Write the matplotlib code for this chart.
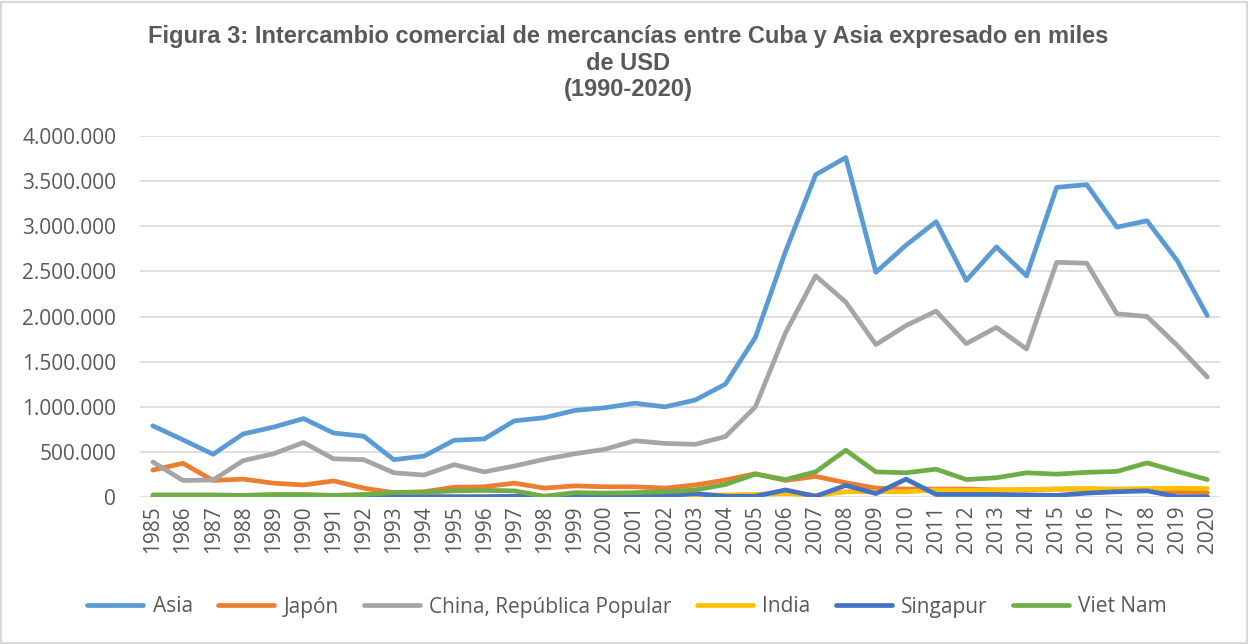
import numpy as np
import matplotlib
matplotlib.use('Agg')
from matplotlib import pyplot as plt
from matplotlib.patches import Rectangle
from matplotlib.ticker import FuncFormatter

plt.rcParams['font.family'] = ['Open Sans', 'DejaVu Sans']

years = list(range(1985, 2021))

asia = [790, 635, 475, 700, 775, 870, 710, 675, 415, 455,
        630, 645, 845, 880, 960, 990, 1040, 1000, 1075, 1250,
        1770, 2720, 3570, 3760, 2490, 2790, 3050, 2400, 2770, 2450,
        3430, 3460, 2990, 3060, 2620, 2010]
japon = [300, 375, 185, 200, 155, 135, 180, 100, 50, 60,
         110, 115, 155, 100, 125, 115, 115, 100, 135, 190,
         260, 185, 230, 160, 100, 90, 90, 90, 80, 80,
         90, 90, 85, 80, 60, 50]
china = [390, 185, 190, 405, 480, 605, 425, 415, 270, 245,
         360, 280, 345, 420, 480, 530, 625, 595, 585, 670,
         1000, 1820, 2450, 2160, 1690, 1900, 2060, 1700, 1880, 1640,
         2600, 2590, 2030, 2000, 1680, 1330]
india = [5, 5, 5, 5, 5, 5, 5, 5, 5, 5,
         5, 5, 10, 10, 10, 15, 15, 15, 20, 25,
         30, 40, 20, 60, 60, 60, 80, 75, 80, 85,
         90, 95, 90, 95, 100, 95]
singapur = [0, 0, 0, 0, 0, 0, 0, 0, 5, 5,
            5, 5, 10, 5, 5, 5, 10, 15, 40, 10,
            10, 80, 10, 130, 40, 200, 30, 30, 30, 25,
            20, 45, 60, 70, 5, 5]
vietnam = [25, 25, 25, 20, 30, 30, 20, 30, 50, 55,
           70, 75, 70, 10, 50, 45, 50, 60, 80, 140,
           255, 195, 280, 520, 280, 270, 310, 195, 215, 270,
           255, 275, 285, 380, 285, 195]

series = [
    ('Asia', asia, '#5B9BD5'),
    ('Japón', japon, '#ED7D31'),
    ('China, República Popular', china, '#A5A5A5'),
    ('India', india, '#FFC000'),
    ('Singapur', singapur, '#4472C4'),
    ('Viet Nam', vietnam, '#70AD47'),
]

fig = plt.figure(figsize=(12.49, 6.44), dpi=100)
ax = fig.add_axes([0.112, 0.228, 0.865, 0.561])

for name, vals, col in series:
    ax.plot(years, np.array(vals) * 1000, color=col, lw=3.4, label=name,
            solid_capstyle='round', solid_joinstyle='round')

ax.set_ylim(0, 4000000)
ax.set_xlim(1984.57, 2020.43)
ax.set_yticks(np.arange(0, 4000001, 500000))
ax.yaxis.set_major_formatter(FuncFormatter(lambda v, p: f'{int(v):,}'.replace(',', '.')))
ax.set_xticks(years)
ax.set_xticklabels([str(y) for y in years], rotation=90)
ax.tick_params(axis='both', length=0, labelsize=15, colors='#595959')
ax.tick_params(axis='y', pad=17)
ax.tick_params(axis='x', pad=6)
ax.grid(axis='y', color='#D9D9D9', lw=1.2)
ax.set_axisbelow(True)
for s in ax.spines.values():
    s.set_visible(False)

fig.text(0.503, 1 - 63 / 644, 'Figura 3: Intercambio comercial de mercancías entre Cuba y Asia expresado en miles\nde USD\n(1990-2020)',
         ha='center', va='center', fontsize=17, fontweight='bold', color='#595959',
         family='Liberation Sans', linespacing=1.22)

fig.legend(loc='center', bbox_to_anchor=(0.502, 1 - 607 / 644), ncol=6, frameon=False,
           fontsize=15, labelcolor='#595959', handlelength=2.7, handletextpad=0.45,
           columnspacing=1.2)

fig.patches.append(Rectangle((0.001, 0.002), 0.997, 0.995, transform=fig.transFigure,
                             fill=False, edgecolor='#D9D9D9', lw=1.5))

plt.savefig('out.png', dpi=100, facecolor='white')
